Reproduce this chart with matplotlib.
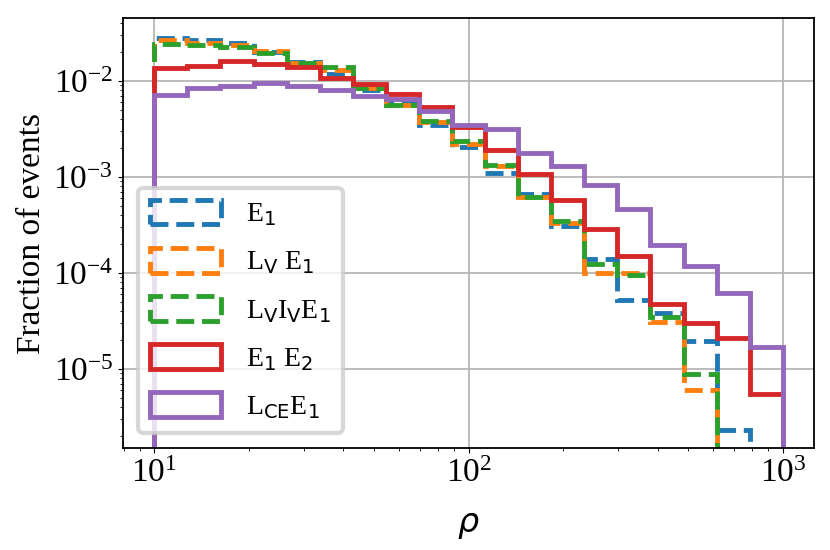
import numpy as np
import matplotlib
matplotlib.use("Agg")
import matplotlib.pyplot as plt

plt.rcParams['font.family'] = ['Liberation Serif', 'DejaVu Sans']
plt.rcParams['mathtext.fontset'] = 'dejavusans'

# 19 log-spaced bins between rho = 10 and rho = 1000
edges = np.logspace(1, 3, 20)

# fraction of events per bin
e1 = [2.81e-2, 2.64e-2, 2.51e-2, 2.00e-2, 1.58e-2, 1.19e-2, 8.0e-3, 6.04e-3, 3.46e-3, 2.05e-3,
      1.10e-3, 6.6e-4, 3.06e-4, 1.41e-4, 5.19e-5, 3.83e-5, 1.96e-5, 2.3e-6, 0]
lv_e1 = [2.64e-2, 2.51e-2, 2.35e-2, 2.07e-2, 1.55e-2, 1.30e-2, 8.4e-3, 5.6e-3, 3.69e-3, 2.2e-3,
         1.30e-3, 6.19e-4, 3.3e-4, 1.0e-4, 1.0e-4, 3.09e-5, 6.0e-6, 0, 0]
lviv_e1 = [2.41e-2, 2.39e-2, 2.28e-2, 1.93e-2, 1.54e-2, 1.40e-2, 8.5e-3, 5.58e-3, 3.80e-3, 2.36e-3,
           1.32e-3, 6.19e-4, 3.45e-4, 1.25e-4, 9.46e-5, 3.48e-5, 8.93e-6, 0, 0]
e1_e2 = [1.35e-2, 1.42e-2, 1.60e-2, 1.49e-2, 1.38e-2, 1.07e-2, 9.25e-3, 7.27e-3, 5.4e-3, 3.3e-3,
         1.93e-3, 1.07e-3, 5.71e-4, 2.90e-4, 1.49e-4, 4.8e-5, 3.01e-5, 2.12e-5, 5.53e-6]
lce_e1 = [7.1e-3, 8.4e-3, 8.9e-3, 9.5e-3, 8.9e-3, 8.1e-3, 6.9e-3, 6.5e-3, 4.9e-3, 3.46e-3,
          3.12e-3, 1.78e-3, 1.29e-3, 8.3e-4, 4.68e-4, 1.97e-4, 1.17e-4, 6.19e-5, 1.69e-5]

labels = ['E$_1$', 'L$_{\\rm V}$ E$_1$', 'L$_{\\rm V}$I$_{\\rm V}$E$_1$',
          'E$_1$ E$_2$', 'L$_{\\rm CE}$E$_1$']
series = [e1, lv_e1, lviv_e1, e1_e2, lce_e1]
styles = ['--', '--', '--', '-', '-']
colors = ['C0', 'C1', 'C2', 'C3', 'C4']

centers = np.sqrt(edges[:-1] * edges[1:])

fig = plt.figure(figsize=(8.3, 5.5), dpi=100)
ax = fig.add_axes([0.148, 0.185, 0.833, 0.782])
ax.set_xscale('log')
ax.set_yscale('log')

for vals, lab, ls, c in zip(series, labels, styles, colors):
    ax.hist(centers, bins=edges, weights=vals, histtype='step',
            linestyle=ls, linewidth=3.5, color=c, label=lab)

ax.set_xlim(10**0.9, 10**3.1)
ax.set_ylim(1.5e-6, 4.5e-2)
ax.grid(True, color='#b0b0b0', linewidth=1.2)
ax.set_xlabel('$\\rho$', fontsize=24, labelpad=16)
ax.set_ylabel('Fraction of events', fontsize=24)
ax.tick_params(labelsize=24)
for sp in ax.spines.values():
    sp.set_linewidth(1.3)

leg = ax.legend(loc='lower left', fontsize=20, handlelength=2.55, handleheight=1.0,
                labelspacing=0.7, handletextpad=0.9, borderpad=0.43, borderaxespad=0.55)
leg.get_frame().set_linewidth(3)

fig.savefig('out.png', dpi=100)
